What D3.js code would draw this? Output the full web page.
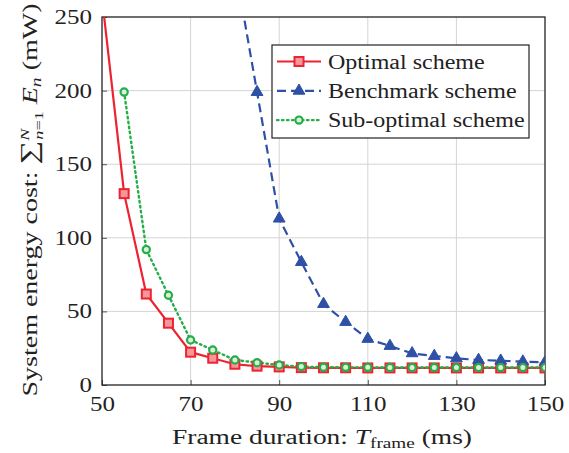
<!DOCTYPE html>
<head>
    <meta charset="utf-8">
    <title>Energy vs frame duration</title>
    <script src="https://d3js.org/d3.v7.min.js"></script>
    <style>
        body { margin: 0; background: #fff; }
        text { font-family: "Liberation Serif", "DejaVu Serif", serif; fill: #222; }
    </style>
</head>
<body>
    <div id="container"></div>
    <script>
        //------------------------DATA------------------------//
        var frameDur = [50, 55, 60, 65, 70, 75, 80, 85, 90, 95, 100, 105, 110, 115, 120, 125, 130, 135, 140, 145, 150];
        var optimal = [263, 130, 61.8, 42, 22.3, 18.2, 14.1, 12.8, 12.3, 11.8, 11.7, 11.7, 11.6, 11.6, 11.6, 11.6, 11.6, 11.6, 11.6, 11.6, 11.6];
        var benchmark = [null, null, null, null, null, null, 285, 199, 113, 83.5, 55, 42.8, 31.3, 26.5, 21.5, 19.7, 18.1, 17, 16.5, 15.9, 15.4];
        var subOptimal = [null, 199, 92, 61, 30.6, 23.8, 17, 15.2, 13.6, 12.5, 12.1, 12, 12, 11.9, 11.9, 11.9, 11.9, 11.9, 11.9, 11.9, 11.9];
        var xTicks = [50, 70, 90, 110, 130, 150];
        var yTicks = [0, 50, 100, 150, 200, 250];

        var series = [
            { name: "Optimal scheme", values: optimal, color: "#ec2330", dash: null, marker: "square", width: 2.2 },
            { name: "Benchmark scheme", values: benchmark, color: "#2e50a6", dash: "9,5", marker: "triangle", width: 2.2 },
            { name: "Sub-optimal scheme", values: subOptimal, color: "#25ad48", dash: "1.5,3.5", marker: "circle", width: 2.4 }
        ];

        //------------------------SVG------------------------//
        var W = 569, H = 453;
        var margin = { top: 17, right: 24, bottom: 68, left: 102 };
        var width = W - margin.left - margin.right,
            height = H - margin.top - margin.bottom;

        var svg = d3.select("#container").append("svg")
            .attr("width", W).attr("height", H);

        var xScale = d3.scaleLinear().domain([50, 150]).range([0, width]);
        var yScale = d3.scaleLinear().domain([0, 250]).range([height, 0]);

        var g = svg.append("g")
            .attr("transform", "translate(" + margin.left + "," + margin.top + ")");

        svg.append("defs").append("clipPath").attr("id", "clip")
            .append("rect").attr("width", width).attr("height", height);

        // widen text to mimic the wide TeX font
        function stretch(sel, factor) {
            sel.each(function () {
                var len = this.getComputedTextLength();
                d3.select(this).attr("textLength", len * factor).attr("lengthAdjust", "spacingAndGlyphs");
            });
        }

        //------------------------GRIDS------------------------//
        g.append("g").attr("stroke", "#d4d4d4").attr("stroke-width", 1)
            .call(gg => gg.selectAll("line.vx")
                .data(xTicks.slice(1, -1)).join("line")
                .attr("x1", d => xScale(d)).attr("x2", d => xScale(d))
                .attr("y1", 0).attr("y2", height))
            .call(gg => gg.selectAll("line.hy")
                .data(yTicks.slice(1, -1)).join("line")
                .attr("y1", d => yScale(d)).attr("y2", d => yScale(d))
                .attr("x1", 0).attr("x2", width));

        //------------------------AXES------------------------//
        var xAxis = d3.axisBottom(xScale).tickValues(xTicks).tickSizeInner(-5).tickSizeOuter(0).tickPadding(12);
        var yAxis = d3.axisLeft(yScale).tickValues(yTicks).tickSizeInner(-5).tickSizeOuter(0).tickPadding(10);

        var gx = g.append("g").attr("transform", "translate(0," + height + ")").call(xAxis);
        var gy = g.append("g").call(yAxis);
        [gx, gy].forEach(function (a) {
            a.select(".domain").remove();
            a.selectAll(".tick line").attr("stroke", "#555");
            a.selectAll(".tick text").style("font-size", "20px").attr("fill", "#222")
                .style("font-family", "'Liberation Serif', serif")
                .call(stretch, 1.25);
        });

        // frame
        g.append("rect").attr("width", width).attr("height", height)
            .attr("fill", "none").attr("stroke", "#222").attr("stroke-width", 1.3);

        //------------------------LINES------------------------//
        var plot = g.append("g").attr("clip-path", "url(#clip)");
        var line = d3.line()
            .defined(d => d[1] != null)
            .x(d => xScale(d[0])).y(d => yScale(d[1]));

        function drawMarker(sel, type, color) {
            if (type == "square") {
                sel.append("rect").attr("x", -4.5).attr("y", -4.5).attr("width", 9).attr("height", 9)
                    .attr("fill", "#f5969b").attr("stroke", color).attr("stroke-width", 2);
            } else if (type == "circle") {
                sel.append("circle").attr("r", 3.6)
                    .attr("fill", "#d8f0dc").attr("stroke", color).attr("stroke-width", 2.2);
            } else {
                sel.append("path").attr("d", d3.symbol().type(d3.symbolTriangle).size(60)())
                    .attr("fill", color).attr("stroke", color).attr("stroke-width", 1);
            }
        }

        series.forEach(function (s) {
            var pts = frameDur.map((x, i) => [x, s.values[i]]);
            plot.append("path").datum(pts)
                .attr("d", line)
                .attr("fill", "none")
                .attr("stroke", s.color)
                .attr("stroke-width", s.width)
                .attr("stroke-dasharray", s.dash)
                .attr("stroke-linecap", s.marker == "circle" ? "round" : "butt");
        });
        series.forEach(function (s) {
            var pts = frameDur.map((x, i) => [x, s.values[i]]).filter(d => d[1] != null && d[1] <= 250);
            plot.selectAll(null).data(pts).join("g")
                .attr("transform", d => "translate(" + xScale(d[0]) + "," + yScale(d[1]) + ")")
                .each(function () { drawMarker(d3.select(this), s.marker, s.color); });
        });

        //------------------------LEGEND------------------------//
        var lg = svg.append("g").attr("transform", "translate(272,45)");
        lg.append("rect").attr("width", 257).attr("height", 93)
            .attr("fill", "#fff").attr("stroke", "#222").attr("stroke-width", 1.2);
        var items = lg.selectAll("g.item").data(series).join("g")
            .attr("transform", (d, i) => "translate(0," + (16.5 + i * 29.3) + ")");
        items.append("line").attr("x1", 5).attr("x2", 49)
            .attr("stroke", d => d.color).attr("stroke-width", d => d.width)
            .attr("stroke-dasharray", d => d.dash)
            .attr("stroke-linecap", d => d.marker == "circle" ? "round" : "butt");
        items.each(function (d) {
            var m = d3.select(this).append("g").attr("transform", "translate(27,0)");
            drawMarker(m, d.marker, d.color);
        });
        items.append("text").attr("x", 56).attr("dy", "0.35em")
            .style("font-size", "20px")
            .text(d => d.name)
            .call(stretch, 1.2);

        //------------------------LABELS------------------------//
        var xl = svg.append("text")
            .attr("x", 322).attr("y", 444)
            .attr("text-anchor", "middle").style("font-size", "20px");
        xl.append("tspan").text("Frame duration: ");
        xl.append("tspan").style("font-style", "italic").text("T");
        xl.append("tspan").attr("dy", 4).style("font-size", "14px").text("frame");
        xl.append("tspan").attr("dy", -4).text(" (ms)");
        xl.attr("textLength", 300).attr("lengthAdjust", "spacingAndGlyphs");

        var yl = svg.append("text")
            .attr("transform", "translate(37,200) rotate(-90)")
            .attr("text-anchor", "middle").style("font-size", "20px");
        yl.append("tspan").text("System energy cost: ");
        yl.append("tspan").style("font-size", "24px").text("\u2211");
        yl.append("tspan").attr("dy", -8).style("font-size", "13px").style("font-style", "italic").text("N");
        yl.append("tspan").attr("dx", -8).attr("dy", 14).style("font-size", "13px").style("font-style", "italic").text("n");
        yl.append("tspan").style("font-size", "13px").text("=1");
        yl.append("tspan").attr("dy", -6).text(" ");
        yl.append("tspan").style("font-style", "italic").text("E");
        yl.append("tspan").attr("dy", 4).style("font-size", "14px").style("font-style", "italic").text("n");
        yl.append("tspan").attr("dy", -4).text(" (mW)");
        yl.attr("textLength", 393).attr("lengthAdjust", "spacingAndGlyphs");
    </script>
</body>
